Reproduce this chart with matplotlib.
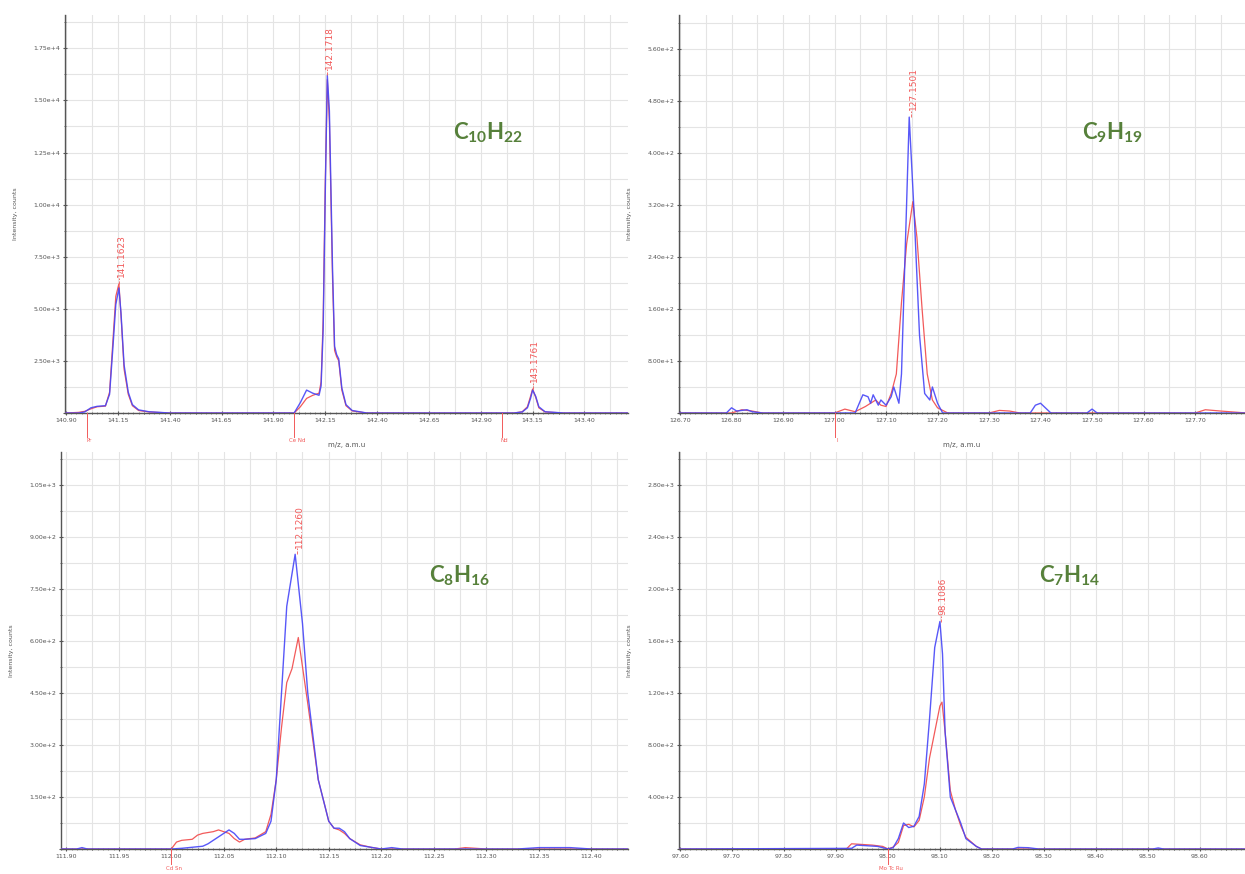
import matplotlib
matplotlib.use('Agg')
import matplotlib.pyplot as plt
from matplotlib.ticker import MultipleLocator, FuncFormatter

plt.rcParams['mathtext.fontset'] = 'custom'
plt.rcParams['mathtext.rm'] = 'Lato'
plt.rcParams['mathtext.bf'] = 'Lato:bold'

# ---------------- data ----------------
# Panel A : C10H22
a_x_blue = [140.90, 140.96, 140.99, 141.02, 141.05, 141.09, 141.11, 141.125, 141.14, 141.155, 141.165, 141.18, 141.20,
            141.22, 141.25, 141.30, 141.40, 141.95, 142.00, 142.03, 142.06, 142.09, 142.12, 142.13, 142.14, 142.15,
            142.16, 142.17, 142.185, 142.195, 142.205, 142.215, 142.23, 142.25, 142.28, 142.35, 143.06, 143.10,
            143.125, 143.14, 143.15, 143.165, 143.18, 143.21, 143.30, 143.61]
a_y_blue = [0, 0, 50, 250, 320, 350, 900, 3000, 5200, 6000, 4800, 2300, 1000,
            400, 150, 60, 0, 0, 0, 500, 1100, 950, 850, 1300, 4000, 10500,
            16200, 14500, 7000, 3200, 2800, 2600, 1200, 400, 120, 0, 0, 50,
            250, 700, 1100, 800, 300, 60, 0, 0]
a_x_red = [140.90, 140.96, 140.99, 141.02, 141.05, 141.09, 141.11, 141.125, 141.14, 141.155, 141.165, 141.18, 141.20,
           141.22, 141.25, 141.30, 141.40, 141.95, 142.00, 142.03, 142.06, 142.09, 142.12, 142.13, 142.14, 142.15,
           142.16, 142.17, 142.185, 142.195, 142.205, 142.215, 142.23, 142.25, 142.28, 142.35, 143.06, 143.10,
           143.125, 143.14, 143.15, 143.165, 143.18, 143.21, 143.30, 143.61]
a_y_red = [0, 30, 80, 200, 300, 330, 1000, 3300, 5600, 6200, 4700, 2100, 900,
           350, 120, 50, 0, 0, 0, 300, 700, 850, 950, 1500, 4500, 11000,
           16000, 14000, 6500, 3000, 2700, 2500, 1100, 350, 100, 0, 0, 60,
           300, 800, 1150, 750, 250, 50, 0, 0]
a_peaks = [141.1623, 142.1718, 143.1761]
a_peak_pos = [141.155, 142.16, 143.15]
a_peak_top = [6200, 16200, 1150]
a_elements = ["Pr", "Ce Nd", "Nd"]
a_element_pos = [141.0, 142.0, 143.0]

# Panel B : C9H19
b_x_blue = [126.70, 126.79, 126.80, 126.81, 126.83, 126.84, 126.86, 127.04, 127.055, 127.065, 127.07, 127.075,
            127.085, 127.09, 127.10, 127.11, 127.115, 127.125, 127.13, 127.145, 127.155, 127.165, 127.175, 127.185,
            127.19, 127.20, 127.21, 127.38, 127.39, 127.40, 127.42, 127.49, 127.50, 127.51, 127.80]
b_y_blue = [0, 0, 8, 3, 5, 2, 0, 0, 28, 25, 15, 28,
            12, 20, 12, 25, 40, 15, 60, 455, 300, 120, 30, 20,
            40, 15, 0, 0, 12, 15, 0, 0, 6, 0, 0]
b_x_red = [126.70, 126.80, 126.82, 126.84, 126.86, 127.00, 127.02, 127.04, 127.06, 127.08, 127.09, 127.10,
           127.11, 127.12, 127.13, 127.14, 127.152, 127.16, 127.17, 127.18, 127.19, 127.20, 127.22, 127.30,
           127.32, 127.34, 127.36, 127.70, 127.72, 127.75, 127.80]
b_y_red = [0, 0, 5, 3, 0, 0, 6, 2, 10, 20, 12, 10,
           30, 60, 170, 260, 325, 270, 160, 60, 20, 8, 0, 0,
           4, 3, 0, 0, 5, 3, 0]
b_peaks = [127.1501]
b_peak_pos = [127.148]
b_peak_top = [455]
b_elements = ["I"]
b_element_pos = [127.0]

# Panel C : C8H16
c_x_blue = [111.895, 111.91, 111.915, 111.92, 112.00, 112.01, 112.02, 112.03, 112.035, 112.04, 112.045, 112.05,
            112.055, 112.06, 112.065, 112.07, 112.08, 112.09, 112.095, 112.10, 112.105, 112.11, 112.118, 112.125,
            112.13, 112.14, 112.15, 112.155, 112.16, 112.165, 112.17, 112.18, 112.19, 112.20, 112.21, 112.22,
            112.23, 112.33, 112.35, 112.38, 112.40, 112.435]
c_y_blue = [0, 0, 4, 0, 0, 2, 5, 8, 15, 25, 35, 45,
            55, 45, 28, 28, 30, 45, 80, 200, 450, 700, 850, 650,
            450, 200, 80, 60, 60, 50, 30, 10, 5, 0, 4, 0,
            0, 0, 4, 4, 0, 0]
c_x_red = [111.895, 112.00, 112.005, 112.01, 112.02, 112.025, 112.03, 112.04, 112.045, 112.05, 112.055, 112.06,
           112.065, 112.07, 112.08, 112.09, 112.095, 112.10, 112.105, 112.11, 112.115, 112.121, 112.13, 112.14,
           112.15, 112.155, 112.16, 112.165, 112.17, 112.18, 112.19, 112.20, 112.27, 112.28, 112.30, 112.435]
c_y_red = [0, 0, 20, 25, 28, 40, 45, 50, 55, 50, 45, 30,
           20, 28, 32, 50, 100, 200, 350, 480, 520, 610, 420, 200,
           80, 60, 55, 45, 30, 12, 5, 0, 0, 4, 0, 0]
c_peaks = [112.1260]
c_peak_pos = [112.12]
c_peak_top = [850]
c_elements = ["Cd Sn"]
c_element_pos = [112.0]

# Panel D : C7H14
d_x_blue = [97.60, 97.93, 97.94, 97.96, 97.98, 97.99, 98.00, 98.01, 98.02, 98.03, 98.04, 98.05, 98.06, 98.07,
            98.08, 98.09, 98.10, 98.105, 98.11, 98.12, 98.13, 98.14, 98.15, 98.17, 98.18, 98.24, 98.25, 98.27,
            98.29, 98.51, 98.52, 98.53, 98.69]
d_y_blue = [0, 5, 30, 25, 20, 10, 0, 10, 80, 200, 165, 175, 250, 500,
            1000, 1550, 1750, 1500, 900, 400, 300, 200, 80, 20, 0, 0, 12, 10,
            0, 0, 8, 0, 0]
d_x_red = [97.60, 97.92, 97.93, 97.95, 97.97, 97.99, 98.00, 98.01, 98.02, 98.03, 98.04, 98.05, 98.06, 98.07,
           98.08, 98.09, 98.10, 98.104, 98.11, 98.12, 98.13, 98.14, 98.15, 98.17, 98.18, 98.69]
d_y_red = [0, 0, 40, 35, 30, 20, 0, 15, 50, 180, 190, 170, 220, 400,
           700, 900, 1100, 1130, 900, 450, 300, 180, 90, 20, 0, 0]
d_peaks = [98.1086]
d_peak_pos = [98.102]
d_peak_top = [1750]
d_elements = ["Mo Tc Ru"]
d_element_pos = [98.0]

formulas = [r"$\mathbf{C_{10}H_{22}}$", r"$\mathbf{C_{9}H_{19}}$", r"$\mathbf{C_{8}H_{16}}$", r"$\mathbf{C_{7}H_{14}}$"]

# ---------------- figure ----------------
W, H = 1245, 874
fig = plt.figure(figsize=(W / 100, H / 100), dpi=100)
BLUE = "#4646f8"
RED = "#f25a5a"
GREEN = "#56803a"
TXT = "#555555"

panels = [
    dict(rect=[65, 15, 628, 413], xb=a_x_blue, yb=a_y_blue, xr=a_x_red, yr=a_y_red, xlim=(140.895, 143.61),
         x0=140.90, ylim=(0, 19100), xmaj=0.25, ymaj=2500, peaks=a_peaks, ppos=a_peak_pos, ptop=a_peak_top,
         el=a_elements, elpos=a_element_pos, formula=formulas[0], fpos=(488, 133), xlabel=True),
    dict(rect=[679, 15, 1245, 413], xb=b_x_blue, yb=b_y_blue, xr=b_x_red, yr=b_y_red, xlim=(126.698, 127.797),
         x0=126.70, ylim=(0, 612), xmaj=0.1, ymaj=80, peaks=b_peaks, ppos=b_peak_pos, ptop=b_peak_top,
         el=b_elements, elpos=b_element_pos, formula=formulas[1], fpos=(1113, 133), xlabel=True),
    dict(rect=[61, 452, 628, 849], xb=c_x_blue, yb=c_y_blue, xr=c_x_red, yr=c_y_red, xlim=(111.895, 112.435),
         x0=111.90, ylim=(0, 1145), xmaj=0.05, ymaj=150, peaks=c_peaks, ppos=c_peak_pos, ptop=c_peak_top,
         el=c_elements, elpos=c_element_pos, formula=formulas[2], fpos=(460, 576), xlabel=False),
    dict(rect=[679, 452, 1245, 849], xb=d_x_blue, yb=d_y_blue, xr=d_x_red, yr=d_y_red, xlim=(97.598, 98.687),
         x0=97.60, ylim=(0, 3054), xmaj=0.1, ymaj=400, peaks=d_peaks, ppos=d_peak_pos, ptop=d_peak_top,
         el=d_elements, elpos=d_element_pos, formula=formulas[3], fpos=(1070, 576), xlabel=False),
]


def yfmt(v, pos):
    if abs(v) < 1e-9:
        return ""
    m, e = f"{v:.2e}".split("e")
    return f"{m}e+{int(e)}"


for p in panels:
    l, t, r, b = p["rect"]
    ax = fig.add_axes([l / W, 1 - b / H, (r - l) / W, (b - t) / H])
    ax.set_xlim(*p["xlim"])
    ax.set_ylim(*p["ylim"])
    for s in ["top", "right"]:
        ax.spines[s].set_visible(False)
    for s in ["left", "bottom"]:
        ax.spines[s].set_color("#555555")
        ax.spines[s].set_linewidth(1.0)
    step = p["xmaj"]
    ax.xaxis.set_major_locator(MultipleLocator(step, offset=round(p["x0"] % step, 6)))
    ax.xaxis.set_minor_locator(MultipleLocator(step / 2, offset=round(p["x0"] % (step / 2), 6)))
    ax.yaxis.set_major_locator(MultipleLocator(p["ymaj"]))
    ax.yaxis.set_minor_locator(MultipleLocator(p["ymaj"] / 2))
    ax.grid(True, which="both", color="#e4e4e4", linewidth=0.8)
    ax.set_axisbelow(True)
    ax.xaxis.set_major_formatter(FuncFormatter(lambda v, pos: f"{v:.2f}"))
    ax.yaxis.set_major_formatter(FuncFormatter(yfmt))
    ax.tick_params(axis="both", which="major", labelsize=4.5, labelcolor=TXT, color="#555555",
                   length=3, width=0.8, direction="inout", pad=2)
    ax.tick_params(axis="both", which="minor", length=2, width=0.6, color="#555555", direction="inout")
    # extra fine ticks along the x axis
    sec = ax.secondary_xaxis("bottom")
    sec.xaxis.set_major_locator(MultipleLocator(step / 10, offset=round(p["x0"] % (step / 10), 6)))
    sec.tick_params(length=2, width=0.5, color="#666666", direction="inout", labelbottom=False)
    sec.spines["bottom"].set_visible(False)

    ax.plot(p["xr"], p["yr"], color=RED, lw=0.9, zorder=3)
    ax.plot(p["xb"], p["yb"], color=BLUE, lw=1.0, zorder=4, alpha=0.9)

    span = p["ylim"][1]
    for lab, xp, top in zip(p["peaks"], p["ppos"], p["ptop"]):
        ax.plot([xp, xp], [top, top + span * 0.015], color=RED, lw=0.6, ls="--", zorder=5)
        ax.text(xp + (p["xlim"][1] - p["xlim"][0]) * 0.004, top + span * 0.017, f"{lab:.4f}", rotation=90,
                color=RED, fontsize=6.5, ha="center", va="bottom", zorder=6)

    line_len = 17 if p["xlabel"] else 11
    frac = line_len * 100 / 72 / (b - t)
    for lab, xp in zip(p["el"], p["elpos"]):
        ax.plot([xp, xp], [0, -frac], transform=ax.get_xaxis_transform(), color=RED, lw=0.7,
                clip_on=False, zorder=6)
        ax.annotate(lab, xy=(xp, 0), xycoords=("data", "axes fraction"), xytext=(2, -line_len - 1),
                    textcoords="offset points", color=RED, fontsize=4, ha="center", va="top",
                    annotation_clip=False)

    ax.set_ylabel("Intensity, counts", fontsize=4.5, color=TXT, labelpad=11)
    if p["xlabel"]:
        ax.set_xlabel("m/z, a.m.u", fontsize=5, color=TXT, labelpad=14)

    fx, fy = p["fpos"]
    fig.text(fx / W, 1 - fy / H, p["formula"], color=GREEN, fontsize=16, ha="center", va="center")

fig.savefig("out.png", dpi=100)
